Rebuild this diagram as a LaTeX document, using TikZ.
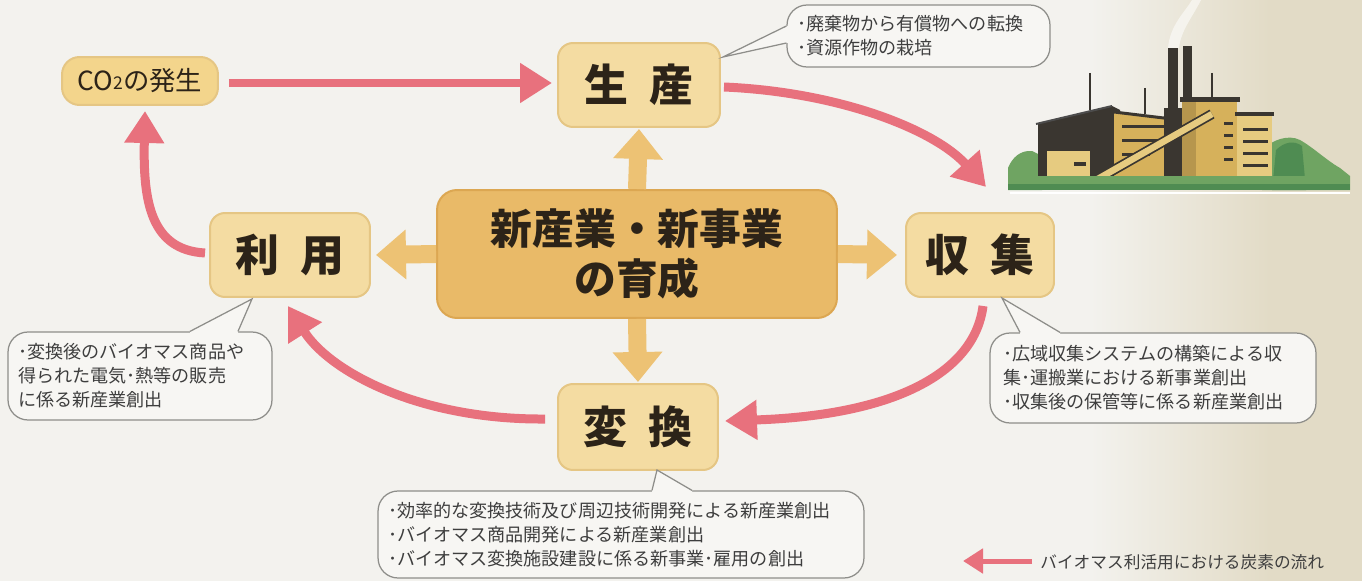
\documentclass[tikz,border=0pt]{standalone}
\usepackage{fontspec}
\setmainfont{Noto Sans CJK JP}
\usetikzlibrary{arrows.meta,calc}

\definecolor{paper}{HTML}{F3F2EE}
\definecolor{sand}{HTML}{E2DBC6}
\definecolor{boxfill}{HTML}{F4DCA2}
\definecolor{boxedge}{HTML}{E5C684}
\definecolor{co2fill}{HTML}{F3D58C}
\definecolor{corefill}{HTML}{E9BA68}
\definecolor{coreedge}{HTML}{DCA752}
\definecolor{goldflow}{HTML}{EDC274}
\definecolor{carbon}{HTML}{E8717D}
\definecolor{ink}{HTML}{2C2318}
\definecolor{noteline}{HTML}{8E8E8A}
\definecolor{notefill}{HTML}{F7F6F3}
\definecolor{noteink}{HTML}{3E3E3E}
\definecolor{plantdark}{HTML}{3A3630}
\definecolor{plantyellow}{HTML}{D6B15B}
\definecolor{plantlight}{HTML}{E6CB80}
\definecolor{leaf}{HTML}{6FA462}
\definecolor{leafdark}{HTML}{4F8C52}

\tikzset{
  stage/.style={draw=boxedge, line width=0.04cm, fill=boxfill, rounded corners=0.3cm,
    text=ink, font=\fontsize{25}{28}\selectfont\bfseries, inner sep=0pt},
  corebox/.style={draw=coreedge, line width=0.04cm, fill=corefill, rounded corners=0.4cm,
    text=ink, font=\fontsize{23.8}{28.5}\selectfont\bfseries, align=center, inner sep=0pt},
  note/.style={draw=noteline, line width=0.025cm, fill=notefill, rounded corners=0.4cm,
    text=noteink, font=\fontsize{10.3}{13.6}\selectfont, align=left, inner ysep=0pt},
  goldflow/.style={draw=goldflow, line width=0.36cm, -{Triangle[width=0.96cm,length=0.6cm]}},
  carbonflow/.style={draw=carbon, line width=0.18cm, -{Triangle[width=0.76cm,length=0.64cm]}},
  pointer/.style={draw=noteline, line width=0.025cm},
}

% callout pointer: base points #1,#2 on the border, tip #3, inward offset #4
\newcommand\notepointer[4]{%
  \fill[notefill] ($#1+#4$) -- #1 -- #3 -- #2 -- ($#2+#4$) -- cycle;
  \draw[pointer] #1 -- #3 -- #2;
}

\begin{document}
\begin{tikzpicture}[x=0.02cm,y=-0.02cm]
\useasboundingbox (0,0) rectangle (1362,581);

% paper background with sand tint on the right
\fill[paper] (0,0) rectangle (1362,581);
\shade[left color=paper, right color=sand] (1090,0) rectangle (1270,581);
\fill[sand] (1269,0) rectangle (1362,581);

% ---------- power plant ----------
\fill[white,opacity=0.55] (1168,48) .. controls (1170,25) and (1185,12) .. (1192,0)
  -- (1201,0) .. controls (1192,18) and (1181,30) .. (1179,48) -- cycle;
% trees behind
\fill[leaf] (1008,190) -- (1008,168) .. controls (1012,158) and (1020,150) .. (1032,151)
  -- (1042,156) -- (1042,190) -- cycle;
\fill[leaf] (1262,190) -- (1262,150) .. controls (1272,140) and (1288,134) .. (1300,140)
  .. controls (1314,148) and (1326,160) .. (1340,168) -- (1350,176) -- (1350,190) -- cycle;
\fill[leafdark] (1272,190) -- (1276,150) .. controls (1284,142) and (1294,140) .. (1302,146)
  -- (1306,190) -- cycle;
% antennas and chimneys
\draw[plantdark, line width=0.04cm] (1090,73) -- (1090,110);
\draw[plantdark, line width=0.04cm] (1145,88) -- (1145,114);
\draw[plantdark, line width=0.04cm] (1212,73) -- (1212,102);
\fill[plantdark] (1168,48) rectangle (1178,112);
\fill[plantdark] (1183,46) rectangle (1192,104);
% dark hall on the left
\fill[plantdark] (1038,178) -- (1038,124) -- (1112,106) -- (1120,110) -- (1120,178) -- cycle;
\draw[black!70, line width=0.04cm] (1036,124) -- (1112,106);
% middle yellow block
\fill[plantyellow] (1114,178) -- (1114,112) -- (1172,119) -- (1172,178) -- cycle;
\draw[plantdark, line width=0.06cm] (1114,112) -- (1172,119);
\fill[plantdark] (1122,125) rectangle (1166,128);
\fill[plantdark] (1122,139) rectangle (1166,142);
\fill[plantdark] (1122,153) rectangle (1150,156);
% dark core between the blocks
\fill[plantdark] (1164,108) rectangle (1184,178);
% tall right block
\fill[plantyellow] (1182,100) rectangle (1237,178);
\fill[plantyellow!85!black] (1182,100) rectangle (1196,178);
\fill[plantdark] (1180,97) rectangle (1240,102);
\foreach \wy in {122,134,146,158} \fill[plantdark] (1224,\wy) rectangle (1233,\wy+3);
% rightmost block
\fill[plantlight] (1237,114) rectangle (1272,180);
\fill[plantdark] (1235,112) rectangle (1274,116);
\foreach \wy in {128,140,152,164} \fill[plantdark] (1243,\wy) rectangle (1268,\wy+3);
% conveyor
\draw[plantdark, line width=0.2cm] (1096,180) -- (1212,114);
\draw[plantlight, line width=0.13cm] (1096,180) -- (1212,114);
% small front shed
\fill[plantlight] (1047,150) rectangle (1090,178);
\fill[plantdark] (1045,148) rectangle (1092,151);
\fill[plantdark] (1074,162) rectangle (1086,166);
% ground strip
\fill[leaf] (1008,176) rectangle (1350,190);
\fill[leafdark] (1008,184) rectangle (1350,190);
\draw[white, line width=0.04cm] (1010,193) -- (1350,193);

% ---------- stage nodes ----------
\node[stage, fill=co2fill, rounded corners=0.35cm, minimum width=3.12cm, minimum height=0.96cm,
  font=\fontsize{15}{17}\selectfont] (co2) at (140,81)
  {CO\raisebox{0.05em}{\fontsize{10}{10}\selectfont 2}の発生};
\node[stage, minimum width=3.24cm, minimum height=1.68cm] (seisan) at (639,85) {生\hspace{0.5em}産};
\node[stage, minimum width=3.2cm, minimum height=1.68cm] (riyou) at (290,255) {利\hspace{0.5em}用};
\node[stage, minimum width=2.96cm, minimum height=1.68cm] (shushu) at (980,255) {収\hspace{0.5em}集};
\node[stage, minimum width=3.2cm, minimum height=1.72cm] (henkan) at (638,427) {変\hspace{0.5em}換};
\node[corebox, minimum width=8cm, minimum height=2.56cm] (core) at (637,254)
  {新産業・新事業\\の育成};

% ---------- outward arrows from the core ----------
\draw[goldflow] (core.north) -- ($(seisan.south)+(0,1)$);
\draw[goldflow] (core.south) -- ($(henkan.north)+(0,-1)$);
\draw[goldflow] (core.west) -- ($(riyou.east)+(5,0)$);
\draw[goldflow] (core.east) -- ($(shushu.west)+(-8,0)$);

% ---------- carbon cycle ----------
\draw[carbonflow] ($(co2.east)+(10,2)$) -- ($(seisan.west)+(-5,-2)$);
\draw[carbonflow] ($(seisan.east)+(3,2)$) .. controls (840,92) and (935,130) .. ($(shushu.north)+(6,-25)$);
\draw[carbonflow] ($(shushu.south)+(3,8)$) .. controls (975,370) and (900,415) .. ($(henkan.east)+(6,-6)$);
\draw[carbonflow] ($(henkan.west)+(-12,-8)$) .. controls (420,420) and (330,372) .. ($(riyou.south)+(-2,8)$);
\draw[carbonflow] ($(riyou.west)+(-4,-2)$) .. controls (150,250) and (143,200) .. ($(co2.south)+(5,5)$);

% ---------- notes ----------
\node[note, minimum width=5.26cm, minimum height=1.24cm, text width=4.86cm, inner xsep=0.2cm]
  (noteA) at (918.5,36) {･廃棄物から有償物への転換\\･資源作物の栽培};
\notepointer{($(noteA.west)+(0,-10)$)}{($(noteA.west)+(0,7)$)}{($(seisan.north east)+(2,15)$)}{(4,0)}

\node[note, minimum width=5.28cm, minimum height=1.76cm, text width=4.88cm, inner xsep=0.2cm]
  (noteB) at (140,376) {･変換後のバイオマス商品や\\得られた電気･熱等の販売\\に係る新産業創出};
\notepointer{($(noteB.north)+(50,0)$)}{($(noteB.north)+(98,0)$)}{($(riyou.south)+(-38,1)$)}{(0,4)}

\node[note, minimum width=6.52cm, minimum height=1.8cm, text width=6.0cm, inner xsep=0.26cm]
  (noteC) at (1153,378) {･広域収集システムの構築による収\\集･運搬業における新事業創出\\･収集後の保管等に係る新産業創出};
\notepointer{($(noteC.north)+(-133,0)$)}{($(noteC.north)+(-93,0)$)}{($(shushu.south)+(22,0)$)}{(0,4)}

\node[note, minimum width=9.72cm, minimum height=1.74cm, text width=9.32cm, inner xsep=0.2cm]
  (noteD) at (621,534.5) {･効率的な変換技術及び周辺技術開発による新産業創出\\･バイオマス商品開発による新産業創出\\･バイオマス変換施設建設に係る新事業･雇用の創出};
\notepointer{($(noteD.north)+(31,0)$)}{($(noteD.north)+(71,0)$)}{($(henkan.south)+(19,-1)$)}{(0,4)}

% ---------- legend ----------
\coordinate (legtail) at (1032,561);
\coordinate (leghead) at (963,561);
\draw[draw=carbon, line width=0.1cm, -{Triangle[width=0.48cm,length=0.4cm]}] (legtail) -- (leghead);
\node[anchor=west, inner sep=0pt, text=noteink, font=\fontsize{9.5}{11}\selectfont] (legtext)
  at (1040,562) {バイオマス利活用における炭素の流れ};
\end{tikzpicture}
\end{document}
